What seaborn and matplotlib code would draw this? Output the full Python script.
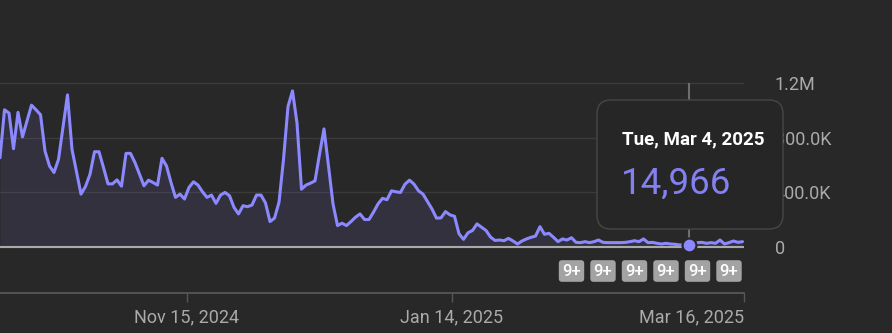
import numpy as np
import pandas as pd
import seaborn as sns
import matplotlib.pyplot as plt
import matplotlib.transforms as mtransforms
from matplotlib.patches import FancyBboxPatch

# daily views, in thousands (Oct 2, 2024 -> Mar 16, 2025)
views_k = [
    653, 1004, 980, 719, 985, 806, 922, 1038, 1004, 968,
    702, 593, 545, 641, 878, 1113, 714, 549, 387, 443,
    532, 697, 697, 581, 462, 462, 491, 445, 685, 685,
    617, 532, 448, 489, 472, 453, 649, 593, 472, 363,
    387, 351, 436, 477, 453, 404, 363, 380, 319, 380,
    399, 375, 290, 242, 302, 295, 307, 380, 380, 322,
    186, 211, 327, 641, 1028, 1142, 907, 423, 453, 467,
    484, 678, 864, 593, 315, 157, 174, 157, 186, 218,
    242, 201, 201, 255, 315, 356, 346, 411, 404, 399,
    460, 489, 460, 411, 387, 332, 278, 211, 213, 259,
    235, 225, 97, 56, 104, 121, 169, 145, 121, 73,
    48, 51, 46, 63, 44, 22, 44, 59, 71, 80,
    149, 93, 100, 71, 39, 59, 51, 68, 34, 32,
    39, 32, 39, 51, 34, 32, 32, 32, 32, 34,
    39, 46, 39, 59, 32, 34, 27, 22, 27, 22,
    20, 15, 16, 14.966, 20, 32, 34, 27, 32, 27,
    51, 22, 32, 44, 34, 39,
]
dates = pd.date_range('2024-10-02', '2025-03-16', freq='D')
df = pd.DataFrame({'date': dates, 'views': np.round(np.array(views_k) * 1000)})

hover_date = pd.Timestamp('2025-03-04')
badge_dates = pd.to_datetime(['2025-02-06', '2025-02-13', '2025-02-20',
                              '2025-02-27', '2025-03-06', '2025-03-13'])
badge_text = '9+'
y_ticks = [0, 400000, 800000, 1200000]
y_labels = ['0', '400.0K', '800.0K', '1.2M']
x_labels = ['Nov 15, 2024', 'Jan 14, 2025', 'Mar 16, 2025']

bg = '#282828'
line_c = '#8c89ff'
text_c = '#aaaaaa'

sns.set_theme(style='dark', rc={'axes.facecolor': bg, 'figure.facecolor': bg})
plt.rcParams['font.family'] = ['Roboto', 'DejaVu Sans']

W, H = 892, 333
fig = plt.figure(figsize=(W / 100, H / 100), dpi=100)

# main chart
ax = fig.add_axes([0, (H - 251.1) / H, 744 / W, 176.3 / H])
ax.set_facecolor(bg)
ax.fill_between(df['date'], df['views'], color=line_c, alpha=0.1, lw=0)
sns.lineplot(data=df, x='date', y='views', ax=ax, color=line_c, lw=2.2, zorder=3)
ax.axhline(0, color=text_c, lw=1.5, zorder=2)

hover_val = df.loc[df['date'] == hover_date, 'views'].iloc[0]
ax.vlines(hover_date, 0, 1.2e6, color='#6e6e6e', lw=1.5, zorder=1)
ax.plot([hover_date], [hover_val], 'o', ms=10, mfc=line_c, mec=bg, mew=1.6, zorder=5)

ax.set_xlim(dates[0], dates[-1] + pd.Timedelta(hours=8))
ax.set_ylim(-30000, 1.26e6)
ax.set_xticks([])
ax.set_xlabel('')
ax.set_ylabel('')
ax.yaxis.tick_right()
ax.set_yticks(y_ticks)
ax.set_yticklabels(y_labels)
ax.tick_params(axis='y', length=0, pad=22, labelsize=13, labelcolor=text_c)
ax.yaxis.grid(True, color='#3a3a3a', lw=1)
ax.set_axisbelow(True)
for s in ax.spines.values():
    s.set_visible(False)

# 9+ badges
trans = mtransforms.blended_transform_factory(ax.transData, fig.transFigure)
for d in badge_dates:
    ax.text(d, (H - 271) / H, badge_text, transform=trans, ha='center', va='center',
            color='white', fontsize=12, fontweight='medium', clip_on=False,
            bbox=dict(boxstyle='round,pad=0.2,rounding_size=0.2', fc='#a3a3a3', ec='none'))

# bottom timeline
ax2 = fig.add_axes([0, (H - 293) / H, 744 / W, 0.0001])
ax2.set_facecolor('none')
ax2.set_xlim(0, 1)
ax2.set_yticks([])
for side in ['top', 'left', 'right']:
    ax2.spines[side].set_visible(False)
ax2.spines['bottom'].set_color('#575757')
ax2.spines['bottom'].set_linewidth(1.3)
ax2.set_xticks([187 / 744, 452 / 744, 1.0])
ax2.set_xticklabels(x_labels)
ax2.tick_params(axis='x', bottom=True, length=6.3, width=1, color='#575757',
                labelcolor=text_c, labelsize=13, pad=4.5)
ax2.get_xticklabels()[-1].set_ha('right')

# tooltip
fig.add_artist(FancyBboxPatch((5.97, 1.04), 1.86, 1.29,
                              boxstyle='round,pad=0,rounding_size=0.14',
                              transform=fig.dpi_scale_trans, fc='#262626',
                              ec='#474747', lw=1, zorder=10))
date_str = f"{hover_date:%a}, {hover_date:%b} {hover_date.day}, {hover_date.year}"
fig.text(622 / W, (H - 144.3) / H, date_str, color='white', fontsize=13.5,
         fontweight='bold', va='baseline', ha='left', zorder=11)
fig.text(621 / W, (H - 193.3) / H, f"{int(hover_val):,}", color='#8380f0',
         fontsize=26.5, va='baseline', ha='left', zorder=11)

fig.savefig('out.png', dpi=100, facecolor=bg)
